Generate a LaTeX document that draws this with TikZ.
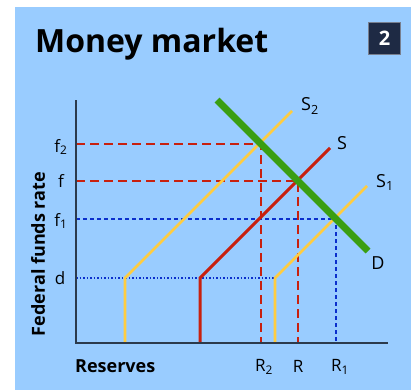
\documentclass[tikz,border=0pt]{standalone}
\usepackage{fontspec}
\setmainfont{Open Sans}
\begin{document}
\begin{tikzpicture}[x=1pt,y=-1pt,
  axisline/.style={line width=2pt,draw=axisgray},
  supred/.style={line width=3pt,draw=sred,line join=miter},
  supyel/.style={line width=2.8pt,draw=syel,line join=miter},
  dem/.style={line width=7pt,draw=dgreen},
  reddash/.style={line width=2.8pt,draw=sred,dash pattern=on 9pt off 5pt},
  bluedash/.style={line width=2.8pt,draw=bblue,dash pattern=on 4pt off 3pt},
  bluedot/.style={line width=1.6pt,draw=bblue,dash pattern=on 1.5pt off 2pt},
  ticklab/.style={font=\fontsize{17}{17}\selectfont,inner sep=0pt},
  curvelab/.style={font=\fontsize{18}{18}\selectfont,inner sep=0pt}]
\definecolor{bgblue}{HTML}{99CCFF}
\definecolor{axisgray}{HTML}{2B3A4C}
\definecolor{sred}{HTML}{C8200E}
\definecolor{syel}{HTML}{FFCC40}
\definecolor{dgreen}{HTML}{3A9E12}
\definecolor{bblue}{HTML}{0A2ECC}
\definecolor{boxdark}{HTML}{1E2A44}
\useasboundingbox (0,0) rectangle (411,391);
\fill[white] (0,0) rectangle (411,391);
\fill[bgblue] (15,7) rectangle (411,390);
% title
\node[anchor=base west,inner sep=0pt,font=\fontsize{32}{32}\selectfont\bfseries] (title) at (35,52) {Money market};
\node[fill=boxdark,draw=boxdark!60!white,line width=0.8pt,minimum width=32pt,minimum height=32pt,inner sep=0pt,text=white,font=\fontsize{20}{20}\selectfont\bfseries] (num) at (384.5,38.5) {2};
% coordinates
\coordinate (O) at (76,343);
\coordinate (ytop) at (76,100);
\coordinate (xend) at (388,343);
\coordinate (f2p) at (261,144);
\coordinate (fp) at (298,181);
\coordinate (f1p) at (336,219);
\coordinate (dp) at (275,278);
\coordinate (f2a) at (76,144);
\coordinate (fa) at (76,181);
\coordinate (f1a) at (76,219);
\coordinate (da) at (76,278);
\coordinate (R2a) at (261,343);
\coordinate (Ra) at (298,343);
\coordinate (R1a) at (336,343);
% dashed guides
\draw[reddash] (f2a) -- (f2p) -- (R2a);
\draw[reddash] (fa) -- (fp) -- (Ra);
\draw[bluedash] (f1a) -- (f1p) -- (R1a);
\draw[bluedot] (da) -- (dp);
% supply curves
\coordinate (S2b) at (125,343); \coordinate (S2k) at (125,278); \coordinate (S2e) at (292,111);
\coordinate (Sb) at (200,343); \coordinate (Sk) at (200,278); \coordinate (Se) at (330,148);
\coordinate (S1b) at (275,343); \coordinate (S1k) at (275,278); \coordinate (S1e) at (367,186);
\draw[supyel] (S2b) -- (S2k) -- (S2e);
\draw[supred] (Sb) -- (Sk) -- (Se);
\draw[supyel] (S1b) -- (S1k) -- (S1e);
% demand
\coordinate (Ds) at (217,100); \coordinate (De) at (368,251);
\draw[dem] (Ds) -- (De);
% axes
\draw[axisline] (ytop) -- (O) -- (xend);
% labels
\node[curvelab] (lS2) at (310,106) {S\textsubscript{2}};
\node[curvelab] (lS) at (342,143) {S};
\node[curvelab] (lS1) at (385,182) {S\textsubscript{1}};
\node[curvelab] (lD) at (378,263) {D};
\node[ticklab] (lf2) at (61,147) {f\textsubscript{2}};
\node[ticklab] (lf) at (61,181) {f};
\node[ticklab] (lf1) at (61,221) {f\textsubscript{1}};
\node[ticklab] (ld) at (60,278) {d};
\node[ticklab] (lR2) at (264,367) {R\textsubscript{2}};
\node[ticklab] (lR) at (298,366) {R};
\node[ticklab] (lR1) at (340,367) {R\textsubscript{1}};
\node[inner sep=0pt,anchor=west,font=\fontsize{18}{18}\selectfont\bfseries] (lres) at (75,366) {Reserves};
\node[inner sep=0pt,rotate=90,font=\fontsize{18}{18}\selectfont\bfseries] (ylab) at (38,254) {Federal funds rate};
\end{tikzpicture}
\end{document}
